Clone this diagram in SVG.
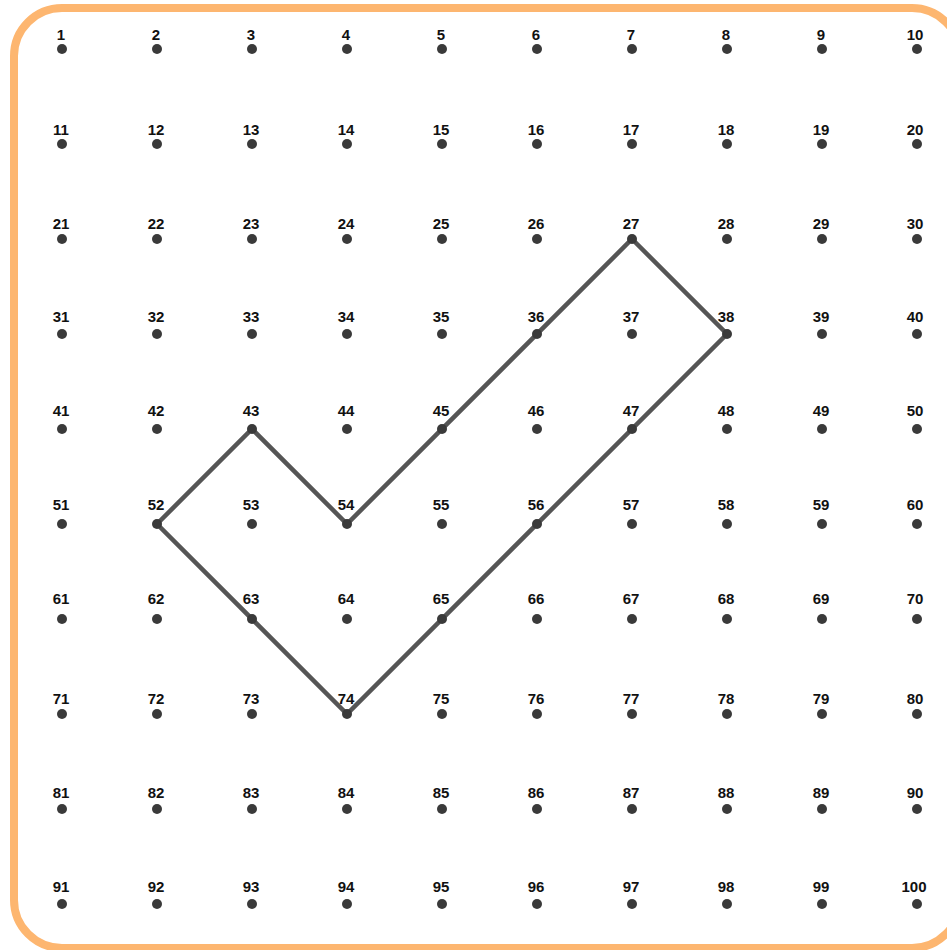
<svg xmlns="http://www.w3.org/2000/svg" width="947" height="950" viewBox="0 0 947 950">
<style>
.frame{fill:#fff;stroke:#FDB670;stroke-width:8}
.dot{fill:#3a3a3a}
.lbl{font-family:"Liberation Sans","DejaVu Sans",sans-serif;font-weight:bold;font-size:15px;fill:#111;text-anchor:middle}
.shape{fill:none;stroke:#555;stroke-width:4.5;stroke-linejoin:miter}
</style>
<rect width="947" height="950" fill="#fff"/>
<rect class="frame" x="14" y="8" width="946" height="940" rx="48"/>
<g id="connectors">
<polygon class="shape" points="632,239 727,334 347,714 157,524 252,429 347,524"/>
</g>
<g id="row1">
<g id="n1"><circle class="dot" cx="62" cy="49" r="5"/><text class="lbl" x="61" y="40">1</text></g>
<g id="n2"><circle class="dot" cx="157" cy="49" r="5"/><text class="lbl" x="156" y="40">2</text></g>
<g id="n3"><circle class="dot" cx="252" cy="49" r="5"/><text class="lbl" x="251" y="40">3</text></g>
<g id="n4"><circle class="dot" cx="347" cy="49" r="5"/><text class="lbl" x="346" y="40">4</text></g>
<g id="n5"><circle class="dot" cx="442" cy="49" r="5"/><text class="lbl" x="441" y="40">5</text></g>
<g id="n6"><circle class="dot" cx="537" cy="49" r="5"/><text class="lbl" x="536" y="40">6</text></g>
<g id="n7"><circle class="dot" cx="632" cy="49" r="5"/><text class="lbl" x="631" y="40">7</text></g>
<g id="n8"><circle class="dot" cx="727" cy="49" r="5"/><text class="lbl" x="726" y="40">8</text></g>
<g id="n9"><circle class="dot" cx="822" cy="49" r="5"/><text class="lbl" x="821" y="40">9</text></g>
<g id="n10"><circle class="dot" cx="917" cy="49" r="5"/><text class="lbl" x="915" y="40">10</text></g>
</g>
<g id="row2">
<g id="n11"><circle class="dot" cx="62" cy="144" r="5"/><text class="lbl" x="61" y="135">11</text></g>
<g id="n12"><circle class="dot" cx="157" cy="144" r="5"/><text class="lbl" x="156" y="135">12</text></g>
<g id="n13"><circle class="dot" cx="252" cy="144" r="5"/><text class="lbl" x="251" y="135">13</text></g>
<g id="n14"><circle class="dot" cx="347" cy="144" r="5"/><text class="lbl" x="346" y="135">14</text></g>
<g id="n15"><circle class="dot" cx="442" cy="144" r="5"/><text class="lbl" x="441" y="135">15</text></g>
<g id="n16"><circle class="dot" cx="537" cy="144" r="5"/><text class="lbl" x="536" y="135">16</text></g>
<g id="n17"><circle class="dot" cx="632" cy="144" r="5"/><text class="lbl" x="631" y="135">17</text></g>
<g id="n18"><circle class="dot" cx="727" cy="144" r="5"/><text class="lbl" x="726" y="135">18</text></g>
<g id="n19"><circle class="dot" cx="822" cy="144" r="5"/><text class="lbl" x="821" y="135">19</text></g>
<g id="n20"><circle class="dot" cx="917" cy="144" r="5"/><text class="lbl" x="915" y="135">20</text></g>
</g>
<g id="row3">
<g id="n21"><circle class="dot" cx="62" cy="239" r="5"/><text class="lbl" x="61" y="229">21</text></g>
<g id="n22"><circle class="dot" cx="157" cy="239" r="5"/><text class="lbl" x="156" y="229">22</text></g>
<g id="n23"><circle class="dot" cx="252" cy="239" r="5"/><text class="lbl" x="251" y="229">23</text></g>
<g id="n24"><circle class="dot" cx="347" cy="239" r="5"/><text class="lbl" x="346" y="229">24</text></g>
<g id="n25"><circle class="dot" cx="442" cy="239" r="5"/><text class="lbl" x="441" y="229">25</text></g>
<g id="n26"><circle class="dot" cx="537" cy="239" r="5"/><text class="lbl" x="536" y="229">26</text></g>
<g id="n27"><circle class="dot" cx="632" cy="239" r="5"/><text class="lbl" x="631" y="229">27</text></g>
<g id="n28"><circle class="dot" cx="727" cy="239" r="5"/><text class="lbl" x="726" y="229">28</text></g>
<g id="n29"><circle class="dot" cx="822" cy="239" r="5"/><text class="lbl" x="821" y="229">29</text></g>
<g id="n30"><circle class="dot" cx="917" cy="239" r="5"/><text class="lbl" x="915" y="229">30</text></g>
</g>
<g id="row4">
<g id="n31"><circle class="dot" cx="62" cy="334" r="5"/><text class="lbl" x="61" y="322">31</text></g>
<g id="n32"><circle class="dot" cx="157" cy="334" r="5"/><text class="lbl" x="156" y="322">32</text></g>
<g id="n33"><circle class="dot" cx="252" cy="334" r="5"/><text class="lbl" x="251" y="322">33</text></g>
<g id="n34"><circle class="dot" cx="347" cy="334" r="5"/><text class="lbl" x="346" y="322">34</text></g>
<g id="n35"><circle class="dot" cx="442" cy="334" r="5"/><text class="lbl" x="441" y="322">35</text></g>
<g id="n36"><circle class="dot" cx="537" cy="334" r="5"/><text class="lbl" x="536" y="322">36</text></g>
<g id="n37"><circle class="dot" cx="632" cy="334" r="5"/><text class="lbl" x="631" y="322">37</text></g>
<g id="n38"><circle class="dot" cx="727" cy="334" r="5"/><text class="lbl" x="726" y="322">38</text></g>
<g id="n39"><circle class="dot" cx="822" cy="334" r="5"/><text class="lbl" x="821" y="322">39</text></g>
<g id="n40"><circle class="dot" cx="917" cy="334" r="5"/><text class="lbl" x="915" y="322">40</text></g>
</g>
<g id="row5">
<g id="n41"><circle class="dot" cx="62" cy="429" r="5"/><text class="lbl" x="61" y="416">41</text></g>
<g id="n42"><circle class="dot" cx="157" cy="429" r="5"/><text class="lbl" x="156" y="416">42</text></g>
<g id="n43"><circle class="dot" cx="252" cy="429" r="5"/><text class="lbl" x="251" y="416">43</text></g>
<g id="n44"><circle class="dot" cx="347" cy="429" r="5"/><text class="lbl" x="346" y="416">44</text></g>
<g id="n45"><circle class="dot" cx="442" cy="429" r="5"/><text class="lbl" x="441" y="416">45</text></g>
<g id="n46"><circle class="dot" cx="537" cy="429" r="5"/><text class="lbl" x="536" y="416">46</text></g>
<g id="n47"><circle class="dot" cx="632" cy="429" r="5"/><text class="lbl" x="631" y="416">47</text></g>
<g id="n48"><circle class="dot" cx="727" cy="429" r="5"/><text class="lbl" x="726" y="416">48</text></g>
<g id="n49"><circle class="dot" cx="822" cy="429" r="5"/><text class="lbl" x="821" y="416">49</text></g>
<g id="n50"><circle class="dot" cx="917" cy="429" r="5"/><text class="lbl" x="915" y="416">50</text></g>
</g>
<g id="row6">
<g id="n51"><circle class="dot" cx="62" cy="524" r="5"/><text class="lbl" x="61" y="510">51</text></g>
<g id="n52"><circle class="dot" cx="157" cy="524" r="5"/><text class="lbl" x="156" y="510">52</text></g>
<g id="n53"><circle class="dot" cx="252" cy="524" r="5"/><text class="lbl" x="251" y="510">53</text></g>
<g id="n54"><circle class="dot" cx="347" cy="524" r="5"/><text class="lbl" x="346" y="510">54</text></g>
<g id="n55"><circle class="dot" cx="442" cy="524" r="5"/><text class="lbl" x="441" y="510">55</text></g>
<g id="n56"><circle class="dot" cx="537" cy="524" r="5"/><text class="lbl" x="536" y="510">56</text></g>
<g id="n57"><circle class="dot" cx="632" cy="524" r="5"/><text class="lbl" x="631" y="510">57</text></g>
<g id="n58"><circle class="dot" cx="727" cy="524" r="5"/><text class="lbl" x="726" y="510">58</text></g>
<g id="n59"><circle class="dot" cx="822" cy="524" r="5"/><text class="lbl" x="821" y="510">59</text></g>
<g id="n60"><circle class="dot" cx="917" cy="524" r="5"/><text class="lbl" x="915" y="510">60</text></g>
</g>
<g id="row7">
<g id="n61"><circle class="dot" cx="62" cy="619" r="5"/><text class="lbl" x="61" y="604">61</text></g>
<g id="n62"><circle class="dot" cx="157" cy="619" r="5"/><text class="lbl" x="156" y="604">62</text></g>
<g id="n63"><circle class="dot" cx="252" cy="619" r="5"/><text class="lbl" x="251" y="604">63</text></g>
<g id="n64"><circle class="dot" cx="347" cy="619" r="5"/><text class="lbl" x="346" y="604">64</text></g>
<g id="n65"><circle class="dot" cx="442" cy="619" r="5"/><text class="lbl" x="441" y="604">65</text></g>
<g id="n66"><circle class="dot" cx="537" cy="619" r="5"/><text class="lbl" x="536" y="604">66</text></g>
<g id="n67"><circle class="dot" cx="632" cy="619" r="5"/><text class="lbl" x="631" y="604">67</text></g>
<g id="n68"><circle class="dot" cx="727" cy="619" r="5"/><text class="lbl" x="726" y="604">68</text></g>
<g id="n69"><circle class="dot" cx="822" cy="619" r="5"/><text class="lbl" x="821" y="604">69</text></g>
<g id="n70"><circle class="dot" cx="917" cy="619" r="5"/><text class="lbl" x="915" y="604">70</text></g>
</g>
<g id="row8">
<g id="n71"><circle class="dot" cx="62" cy="714" r="5"/><text class="lbl" x="61" y="704">71</text></g>
<g id="n72"><circle class="dot" cx="157" cy="714" r="5"/><text class="lbl" x="156" y="704">72</text></g>
<g id="n73"><circle class="dot" cx="252" cy="714" r="5"/><text class="lbl" x="251" y="704">73</text></g>
<g id="n74"><circle class="dot" cx="347" cy="714" r="5"/><text class="lbl" x="346" y="704">74</text></g>
<g id="n75"><circle class="dot" cx="442" cy="714" r="5"/><text class="lbl" x="441" y="704">75</text></g>
<g id="n76"><circle class="dot" cx="537" cy="714" r="5"/><text class="lbl" x="536" y="704">76</text></g>
<g id="n77"><circle class="dot" cx="632" cy="714" r="5"/><text class="lbl" x="631" y="704">77</text></g>
<g id="n78"><circle class="dot" cx="727" cy="714" r="5"/><text class="lbl" x="726" y="704">78</text></g>
<g id="n79"><circle class="dot" cx="822" cy="714" r="5"/><text class="lbl" x="821" y="704">79</text></g>
<g id="n80"><circle class="dot" cx="917" cy="714" r="5"/><text class="lbl" x="915" y="704">80</text></g>
</g>
<g id="row9">
<g id="n81"><circle class="dot" cx="62" cy="809" r="5"/><text class="lbl" x="61" y="798">81</text></g>
<g id="n82"><circle class="dot" cx="157" cy="809" r="5"/><text class="lbl" x="156" y="798">82</text></g>
<g id="n83"><circle class="dot" cx="252" cy="809" r="5"/><text class="lbl" x="251" y="798">83</text></g>
<g id="n84"><circle class="dot" cx="347" cy="809" r="5"/><text class="lbl" x="346" y="798">84</text></g>
<g id="n85"><circle class="dot" cx="442" cy="809" r="5"/><text class="lbl" x="441" y="798">85</text></g>
<g id="n86"><circle class="dot" cx="537" cy="809" r="5"/><text class="lbl" x="536" y="798">86</text></g>
<g id="n87"><circle class="dot" cx="632" cy="809" r="5"/><text class="lbl" x="631" y="798">87</text></g>
<g id="n88"><circle class="dot" cx="727" cy="809" r="5"/><text class="lbl" x="726" y="798">88</text></g>
<g id="n89"><circle class="dot" cx="822" cy="809" r="5"/><text class="lbl" x="821" y="798">89</text></g>
<g id="n90"><circle class="dot" cx="917" cy="809" r="5"/><text class="lbl" x="915" y="798">90</text></g>
</g>
<g id="row10">
<g id="n91"><circle class="dot" cx="62" cy="904" r="5"/><text class="lbl" x="61" y="892">91</text></g>
<g id="n92"><circle class="dot" cx="157" cy="904" r="5"/><text class="lbl" x="156" y="892">92</text></g>
<g id="n93"><circle class="dot" cx="252" cy="904" r="5"/><text class="lbl" x="251" y="892">93</text></g>
<g id="n94"><circle class="dot" cx="347" cy="904" r="5"/><text class="lbl" x="346" y="892">94</text></g>
<g id="n95"><circle class="dot" cx="442" cy="904" r="5"/><text class="lbl" x="441" y="892">95</text></g>
<g id="n96"><circle class="dot" cx="537" cy="904" r="5"/><text class="lbl" x="536" y="892">96</text></g>
<g id="n97"><circle class="dot" cx="632" cy="904" r="5"/><text class="lbl" x="631" y="892">97</text></g>
<g id="n98"><circle class="dot" cx="727" cy="904" r="5"/><text class="lbl" x="726" y="892">98</text></g>
<g id="n99"><circle class="dot" cx="822" cy="904" r="5"/><text class="lbl" x="821" y="892">99</text></g>
<g id="n100"><circle class="dot" cx="917" cy="904" r="5"/><text class="lbl" x="914" y="892">100</text></g>
</g>
</svg>
